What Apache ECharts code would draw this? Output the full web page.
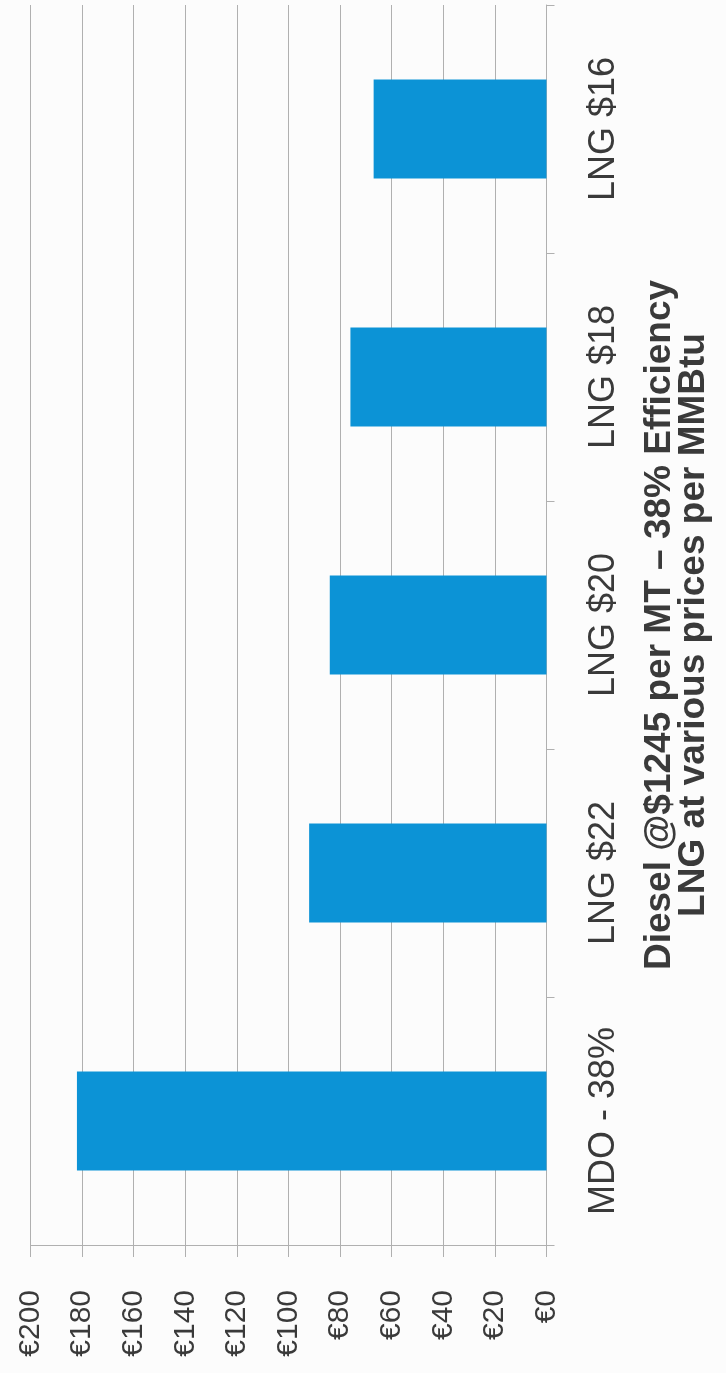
<!DOCTYPE html>
<html>
<head>
<meta charset="utf-8">
<script src="https://cdn.jsdelivr.net/npm/echarts@6/dist/echarts.min.js"></script>
<style>
  html, body { margin: 0; padding: 0; background: #fcfcfc; }
  #chart { width: 726px; height: 1373px; }
</style>
</head>
<body>
<div id="chart"></div>
<script>
// Fuel cost comparison, drawn as a rotated bar chart
const categories = ['MDO - 38%', 'LNG $22', 'LNG $20', 'LNG $18', 'LNG $16'];
const costs = [182, 92, 84, 76, 67];
const tickValues = [0, 20, 40, 60, 80, 100, 120, 140, 160, 180, 200];
const axisTitle = ['Diesel @$1245 per MT \u2013 38% Efficiency', 'LNG at various prices per MMBtu'];

const FONT = '"Liberation Sans", Arial, sans-serif';
const TEXT = '#3a3a3a';
const GRID = '#b0b0b0';

const chart = echarts.init(document.getElementById('chart'), null, { renderer: 'canvas' });

chart.setOption({
  backgroundColor: '#fcfcfc',
  animation: false,
  grid: { left: 30.5, right: 179.5, top: 5, bottom: 128, containLabel: false },
  xAxis: {
    type: 'value',
    min: tickValues[0],
    max: tickValues[tickValues.length - 1],
    interval: tickValues[1] - tickValues[0],
    inverse: true,
    position: 'bottom',
    axisLine: { show: true, onZero: false, lineStyle: { color: GRID, width: 1 } },
    axisTick: { show: true, length: 12, lineStyle: { color: GRID } },
    splitLine: { show: true, lineStyle: { color: GRID, width: 1 } },
    axisLabel: {
      rotate: 90,
      margin: 45,
      fontFamily: FONT,
      fontSize: 30,
      color: TEXT,
      formatter: v => '\u20ac' + v
    }
  },
  yAxis: {
    type: 'category',
    data: categories,
    position: 'right',
    axisLine: { show: true, onZero: false, lineStyle: { color: GRID, width: 1 } },
    axisTick: { show: true, length: 8, alignWithLabel: false, lineStyle: { color: GRID } },
    axisLabel: {
      rotate: 90,
      margin: 40,
      fontFamily: FONT,
      fontSize: 36,
      color: TEXT
    },
    name: axisTitle.join('\n'),
    nameLocation: 'middle',
    nameRotate: 90,
    nameGap: 96,
    nameTextStyle: {
      fontFamily: FONT,
      fontSize: 37,
      fontWeight: 'bold',
      color: TEXT,
      lineHeight: 34
    }
  },
  series: [{
    type: 'bar',
    data: costs,
    barWidth: '40%',
    itemStyle: { color: '#0c93d6' }
  }]
});
</script>
</body>
</html>
